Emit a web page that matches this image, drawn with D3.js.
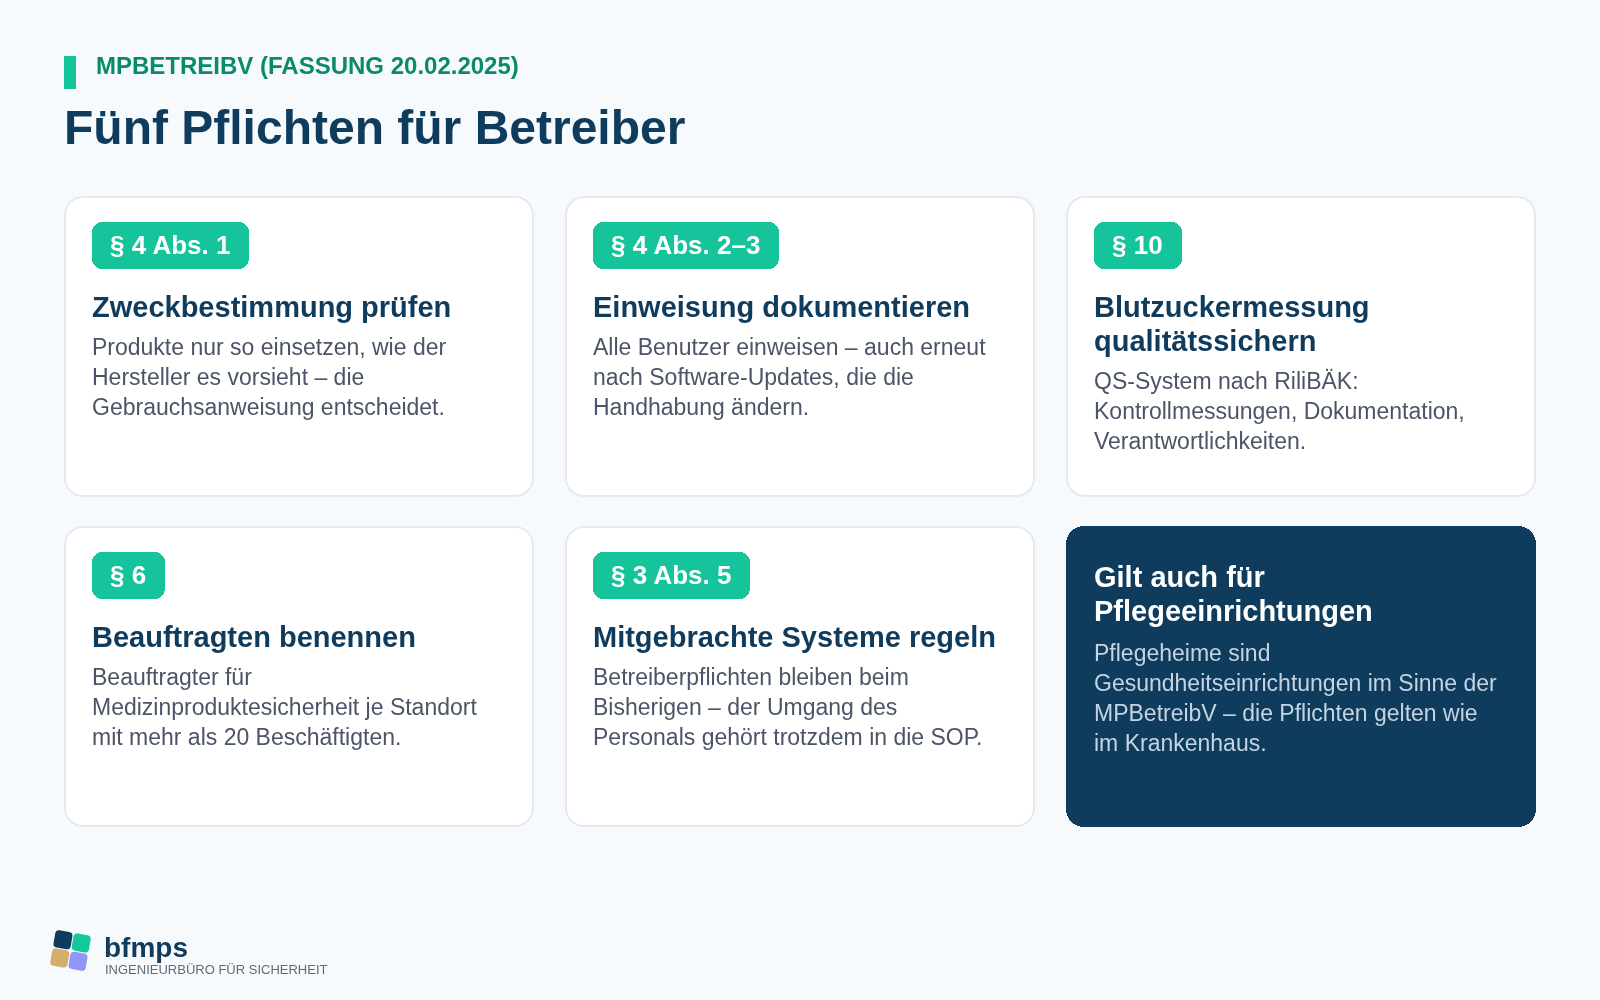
<!DOCTYPE html>
<html lang="de">
<head>
<meta charset="UTF-8">
<title>Fünf Pflichten für Betreiber</title>
<style>
  html, body { margin: 0; padding: 0; background: #f7fafd; }
  svg { display: block; will-change: transform; }
  text { font-family: "Liberation Sans", Arial, sans-serif; }
</style>
</head>
<body>
<div class="chart"></div>
<script src="https://d3js.org/d3.v7.min.js"></script>
<script>
const eyebrow = "MPBETREIBV (FASSUNG 20.02.2025)";
const heading = "Fünf Pflichten für Betreiber";
const badges = ["§ 4 Abs. 1", "§ 4 Abs. 2–3", "§ 10", "§ 6", "§ 3 Abs. 5", null];
const titles = [
  ["Zweckbestimmung prüfen"],
  ["Einweisung dokumentieren"],
  ["Blutzuckermessung", "qualitätssichern"],
  ["Beauftragten benennen"],
  ["Mitgebrachte Systeme regeln"],
  ["Gilt auch für", "Pflegeeinrichtungen"]
];
const bodies = [
  ["Produkte nur so einsetzen, wie der", "Hersteller es vorsieht – die", "Gebrauchsanweisung entscheidet."],
  ["Alle Benutzer einweisen – auch erneut", "nach Software-Updates, die die", "Handhabung ändern."],
  ["QS-System nach RiliBÄK:", "Kontrollmessungen, Dokumentation,", "Verantwortlichkeiten."],
  ["Beauftragter für", "Medizinproduktesicherheit je Standort", "mit mehr als 20 Beschäftigten."],
  ["Betreiberpflichten bleiben beim", "Bisherigen – der Umgang des", "Personals gehört trotzdem in die SOP."],
  ["Pflegeheime sind", "Gesundheitseinrichtungen im Sinne der", "MPBetreibV – die Pflichten gelten wie", "im Krankenhaus."]
];
const logoColors = ["#0f3b5c", "#16c79a", "#d4ae6d", "#9196f5"];

const width = 1600, height = 1000;
const navy = "#0f3b5c", teal = "#15c49a";

const svg = d3.select(".chart").append("svg")
  .attr("width", width).attr("height", height);
svg.append("rect").attr("width", width).attr("height", height).attr("fill", "#f7fafd");

// kopf
svg.append("rect").attr("x", 64).attr("y", 56).attr("width", 12).attr("height", 33).attr("fill", teal);
svg.append("text").attr("x", 96).attr("y", 74)
  .attr("font-size", 24).attr("font-weight", 700).attr("fill", "#0a8a6c").text(eyebrow);
svg.append("text").attr("x", 64).attr("y", 144)
  .attr("font-size", 48).attr("font-weight", 700).attr("fill", navy).text(heading);

// kartenraster
const cards = d3.range(titles.length);
const col = d3.scaleBand().domain([0, 1, 2]).range([64, 1536]).paddingInner(32 / 501.33);
const row = d3.scaleBand().domain([0, 1]).range([196, 827]).paddingInner(29 / 330);
const cardW = Math.ceil(col.bandwidth()), cardH = Math.round(row.bandwidth());
const frac = i => col(i % 3) - Math.floor(col(i % 3));

const card = svg.selectAll("g.card").data(cards).join("g")
  .attr("class", "card")
  .attr("transform", i => `translate(${Math.floor(col(i % 3))},${Math.round(row(Math.floor(i / 3)))})`);

card.append("rect")
  .attr("x", i => badges[i] ? 1 : 0).attr("y", i => badges[i] ? 1 : 0)
  .attr("width", i => cardW - (badges[i] ? 2 : 0))
  .attr("height", i => cardH - (badges[i] ? 2 : 0))
  .attr("rx", 18)
  .attr("fill", i => badges[i] ? "#fff" : navy)
  .attr("stroke", i => badges[i] ? "#e5e9f1" : "none")
  .attr("stroke-width", 2)
  .attr("shape-rendering", i => badges[i] ? null : "crispEdges");

const padX = 28;

// badge
const badge = card.filter(i => badges[i]).append("g");
badge.append("text")
  .attr("x", padX + 18).attr("y", 58)
  .attr("font-size", 26).attr("font-weight", 700).attr("fill", "#fff")
  .text(i => badges[i]);
badge.insert("rect", "text")
  .attr("x", padX).attr("y", 26).attr("height", 47).attr("rx", 10)
  .attr("fill", teal)
  .attr("shape-rendering", "crispEdges")
  .attr("width", function (i) {
    const len = this.parentNode.querySelector("text").getComputedTextLength();
    return Math.ceil(len + 36 + frac(i));
  });

// titel + text
card.each(function (i) {
  const g = d3.select(this);
  const dark = !badges[i];
  const titleY = dark ? 61 : 121;
  g.selectAll("text.t").data(titles[i]).join("text").attr("class", "t")
    .attr("x", padX).attr("y", (d, k) => titleY + k * 34)
    .attr("font-size", 29).attr("font-weight", 700)
    .attr("fill", dark ? "#fff" : navy).text(d => d);
  const bodyY = titleY + (titles[i].length - 1) * 34 + (dark ? 40 : 38);
  g.selectAll("text.b").data(bodies[i]).join("text").attr("class", "b")
    .attr("x", padX).attr("y", (d, k) => bodyY + k * 30)
    .attr("font-size", 23)
    .attr("fill", dark ? "#c5d4e3" : "#4b5567").text(d => d);
});

// logo
const logo = svg.append("g").attr("transform", "translate(70.5,950.5) rotate(10)");
const logoPos = d3.scaleBand().domain([0, 1]).range([-18, 18]).paddingInner(0.06);
logo.selectAll("rect").data(logoColors).join("rect")
  .attr("x", (d, i) => logoPos(i % 2))
  .attr("y", (d, i) => logoPos(Math.floor(i / 2)))
  .attr("width", logoPos.bandwidth()).attr("height", logoPos.bandwidth())
  .attr("rx", 4).attr("fill", d => d);
svg.append("text").attr("x", 104).attr("y", 957)
  .attr("font-size", 28).attr("font-weight", 700).attr("fill", navy).text("bfmps");
svg.append("text").attr("x", 105).attr("y", 974)
  .attr("font-size", 13).attr("fill", "#5f6b7a").text("INGENIEURBÜRO FÜR SICHERHEIT");
</script>
</body>
</html>
